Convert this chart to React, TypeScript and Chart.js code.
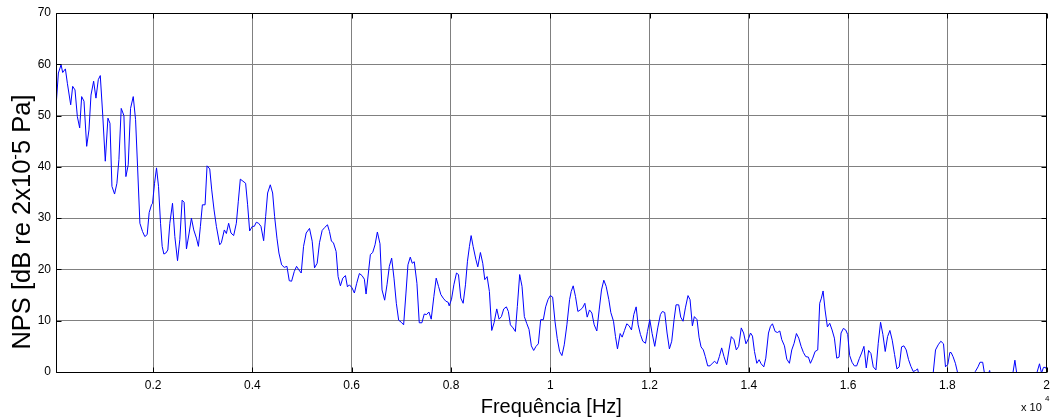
import React, { useEffect, useRef } from "react";
import { Chart, registerables } from "chart.js";

Chart.register(...registerables);

// Frequency (Hz) of each sample of the spectrum
const freqHz: number[] = [
  44, 91, 145, 178, 232, 272, 339, 379, 426, 473, 520, 560, 607, 661, 707, 748, 801, 848, 895, 935,
  982, 1036, 1089, 1130, 1170, 1223, 1270, 1310, 1357, 1411, 1451, 1498, 1545, 1599, 1646, 1686, 1733, 1786, 1833, 1880,
  1920, 1967, 1988, 2028, 2068, 2108, 2149, 2182, 2216, 2256, 2296, 2336, 2390, 2437, 2491, 2537, 2584, 2624, 2671, 2725,
  2771, 2818, 2872, 2912, 2952, 2992, 3046, 3086, 3140, 3180, 3227, 3274, 3341, 3374, 3434, 3475, 3521, 3568, 3622, 3676,
  3716, 3756, 3810, 3863, 3903, 3944, 3998, 4038, 4078, 4125, 4172, 4226, 4266, 4306, 4360, 4407, 4447, 4494, 4534, 4588,
  4641, 4695, 4742, 4789, 4843, 4889, 4936, 4983, 5030, 5083, 5150, 5204, 5251, 5304, 5351, 5405, 5458, 5512, 5552, 5592,
  5632, 5686, 5726, 5773, 5820, 5874, 5914, 5954, 6007, 6054, 6101, 6155, 6208, 6255, 6289, 6336, 6376, 6423, 6470, 6517,
  6570, 6611, 6664, 6711, 6758, 6805, 6852, 6899, 6946, 6999, 7046, 7093, 7133, 7180, 7220, 7260, 7314, 7361, 7414, 7461,
  7508, 7555, 7602, 7655, 7702, 7749, 7796, 7843, 7896, 7943, 7964, 8011, 8058, 8111, 8151, 8198, 8245, 8292, 8332, 8372,
  8406, 8446, 8500, 8540, 8593, 8640, 8681, 8728, 8774, 8821, 8868, 8922, 8969, 9016, 9063, 9116, 9156, 9197, 9250, 9297,
  9337, 9384, 9431, 9478, 9525, 9572, 9619, 9666, 9713, 9760, 9807, 9860, 9907, 9954, 10001, 10048, 10095, 10141, 10188, 10235,
  10282, 10335, 10389, 10422, 10462, 10509, 10556, 10603, 10650, 10697, 10744, 10791, 10838, 10885, 10938, 10985, 11032, 11079, 11126, 11180,
  11220, 11274, 11314, 11354, 11408, 11448, 11495, 11542, 11589, 11636, 11683, 11730, 11770, 11817, 11864, 11918, 11958, 12005, 12052, 12105,
  12165, 12219, 12259, 12306, 12353, 12400, 12447, 12494, 12534, 12588, 12628, 12675, 12722, 12775, 12816, 12863, 12903, 12957, 12997, 13037,
  13084, 13124, 13171, 13218, 13265, 13312, 13359, 13406, 13453, 13500, 13553, 13600, 13647, 13701, 13748, 13795, 13848, 13895, 13942, 13994,
  14034, 14074, 14114, 14161, 14208, 14248, 14302, 14342, 14396, 14436, 14476, 14530, 14577, 14624, 14664, 14718, 14765, 14818, 14865, 14912,
  14959, 15006, 15053, 15100, 15147, 15200, 15241, 15288, 15335, 15388, 15428, 15462, 15496, 15536, 15583, 15630, 15677, 15724, 15771, 15818,
  15858, 15905, 15952, 15992, 16032, 16079, 16126, 16173, 16225, 16272, 16319, 16366, 16413, 16460, 16507, 16561, 16607, 16654, 16701, 16748,
  16795, 16842, 16889, 16936, 16983, 17030, 17077, 17124, 17171, 17218, 17265, 17312, 17359, 17399, 17439, 17500, 17560, 17620, 17680, 17714,
  17761, 17815, 17868, 17922, 17962, 18009, 18049, 18075, 18114, 18161, 18215, 18280, 18350, 18420, 18490, 18563, 18617, 18657, 18711, 18751,
  18800, 18851, 18880, 18950, 19050, 19150, 19250, 19320, 19360, 19400, 19480, 19560, 19650, 19740, 19802, 19856, 19896, 19936, 19976, 20000,
];

// Sound pressure level (dB re 2x10^-5 Pa) at each frequency
const npsDb: number[] = [
  51.8, 58.3, 59.9, 58.4, 59.1, 56.3, 52.1, 55.7, 55.0, 49.8, 47.6, 53.7, 52.8, 44.0, 47.2, 54.0, 56.7, 53.4, 57.0, 57.8,
  50.5, 41.1, 49.5, 48.5, 36.2, 34.7, 36.8, 41.4, 51.4, 50.0, 38.1, 40.4, 51.4, 53.7, 49.2, 40.1, 29.0, 27.4, 26.4, 26.8,
  31.1, 32.6, 32.9, 36.8, 39.8, 36.2, 29.0, 24.5, 23.0, 23.2, 23.8, 29.0, 32.9, 26.4, 21.7, 25.8, 33.5, 33.1, 24.0, 27.1,
  30.0, 27.7, 26.1, 24.5, 28.4, 32.6, 32.6, 40.2, 39.6, 35.5, 31.6, 28.4, 24.8, 25.2, 27.7, 27.0, 29.0, 27.1, 26.6, 29.0,
  33.3, 37.6, 37.2, 36.8, 32.6, 27.5, 28.4, 28.4, 29.2, 29.0, 28.4, 25.6, 30.3, 34.9, 36.5, 34.9, 30.3, 26.1, 23.2, 20.9,
  20.4, 20.6, 17.8, 17.7, 19.6, 20.6, 19.9, 19.3, 24.5, 27.1, 28.0, 25.5, 20.3, 21.2, 25.2, 27.6, 28.2, 28.7, 27.4, 25.5,
  25.2, 23.5, 18.6, 16.8, 18.3, 18.8, 16.6, 17.0, 16.4, 15.4, 17.3, 19.2, 18.8, 18.1, 15.2, 19.3, 22.9, 23.3, 24.8, 27.3,
  25.0, 16.0, 14.0, 17.0, 20.6, 22.2, 18.3, 13.4, 10.1, 9.7, 9.2, 15.4, 20.9, 22.4, 21.2, 21.5, 17.3, 9.6, 9.6, 11.3,
  11.2, 11.7, 10.3, 14.7, 18.3, 16.7, 15.1, 14.4, 13.8, 13.6, 12.9, 14.2, 17.0, 19.3, 19.0, 14.4, 13.4, 17.0, 21.6, 24.5,
  26.6, 24.5, 22.0, 20.5, 23.3, 21.2, 18.0, 18.6, 15.7, 8.1, 9.6, 12.3, 10.3, 10.8, 12.3, 12.7, 11.8, 9.2, 8.6, 7.9,
  12.8, 19.0, 16.7, 10.8, 9.5, 8.3, 5.1, 4.2, 5.0, 5.5, 10.2, 10.2, 12.7, 14.1, 14.9, 14.6, 9.9, 6.5, 4.0, 3.2,
  5.3, 9.2, 14.1, 15.7, 16.8, 14.7, 11.8, 12.1, 12.5, 13.4, 10.7, 12.1, 11.5, 9.2, 8.0, 12.1, 16.0, 17.9, 16.7, 14.1,
  11.6, 9.9, 6.9, 4.5, 7.5, 6.8, 8.1, 9.4, 9.0, 8.2, 11.2, 12.7, 9.2, 7.3, 6.0, 5.6, 7.9, 10.2, 7.5, 5.0,
  8.6, 11.2, 11.8, 11.6, 7.6, 4.5, 6.0, 10.2, 13.1, 13.1, 10.7, 9.9, 12.5, 14.9, 14.1, 9.0, 10.8, 10.2, 6.8, 4.9,
  4.3, 3.0, 1.2, 1.2, 1.7, 2.1, 1.6, 3.0, 4.7, 3.0, 1.4, 4.3, 6.9, 6.3, 4.3, 5.0, 8.6, 7.6, 5.5, 6.5,
  7.6, 7.0, 4.0, 1.7, 2.4, 1.6, 1.0, 2.7, 7.6, 8.9, 9.4, 7.9, 7.7, 8.0, 6.3, 5.1, 2.5, 1.7, 4.3, 5.6,
  7.5, 6.6, 5.0, 3.8, 3.0, 2.9, 1.7, 2.7, 4.0, 4.3, 13.4, 14.4, 15.8, 12.1, 8.8, 9.5, 8.2, 6.6, 2.7, 2.9,
  7.6, 8.5, 8.2, 7.3, 3.2, 1.9, 1.2, 1.2, 2.6, 3.7, 5.0, 0.8, 4.2, 3.6, 1.0, 0.4, 5.6, 9.7, 7.3, 4.0,
  6.9, 8.1, 6.2, 3.4, 0.6, 1.0, 4.9, 5.1, 4.3, 2.4, 1.1, 0.1, 0.3, 0.6, -1.0, -3.0, -2.0, -4.0, -1.5, -0.2,
  4.3, 5.3, 6.0, 5.5, 1.0, 1.5, 3.8, 3.8, 3.0, 1.7, -0.5, -3.0, -2.0, -4.0, -2.0, 0.1, 1.0, 1.9, 1.9, -0.5,
  -1.0, 0.3, -1.0, -3.0, -2.0, -4.0, -2.0, -0.2, 2.3, -0.5, -3.0, -2.0, -4.0, -2.0, -0.2, 1.6, -0.2, 0.9, 0.9, 0.5,
];

const xTickValues: number[] = [2000, 4000, 6000, 8000, 10000, 12000, 14000, 16000, 18000, 20000];
const xTickLabels: string[] = ["0.2", "0.4", "0.6", "0.8", "1", "1.2", "1.4", "1.6", "1.8", "2"];
const yTickValues: number[] = [0, 10, 20, 30, 40, 50, 60, 70];
const yTickLabels: string[] = ["0", "10", "20", "30", "40", "50", "60", "70"];

const xTitle = "Frequência [Hz]";
const yTitleParts: string[] = ["NPS [dB re 2x10", "-", "5 Pa]"];
const xExponent: string[] = ["x 10", "4"];

const FONT = "'Liberation Sans', Arial, Helvetica, sans-serif";

const matlabFrame = {
  id: "matlabFrame",
  afterDraw(chart: any) {
    const { ctx, chartArea, scales } = chart;
    const { left, right, top, bottom } = chartArea;
    const xs = scales.x;
    const ys = scales.y;
    const L = Math.round(left) + 0.5;
    const R = Math.round(right) - 0.5;
    const T = Math.round(top) + 0.5;
    const B = Math.round(bottom) + 0.5;
    ctx.save();
    ctx.strokeStyle = "#000";
    ctx.lineWidth = 1;
    ctx.beginPath();
    ctx.rect(L, T, R - L, B - T);
    for (const v of xTickValues) {
      const px = Math.round(xs.getPixelForValue(v)) + 0.5;
      ctx.moveTo(px, B);
      ctx.lineTo(px, B - 5);
      ctx.moveTo(px, T);
      ctx.lineTo(px, T + 5);
    }
    for (const v of yTickValues) {
      const py = Math.round(ys.getPixelForValue(v)) + 0.5;
      ctx.moveTo(L, py);
      ctx.lineTo(L + 5, py);
      ctx.moveTo(R, py);
      ctx.lineTo(R - 5, py);
    }
    ctx.stroke();

    ctx.fillStyle = "#000";
    // x title
    ctx.font = `20px ${FONT}`;
    ctx.textAlign = "center";
    ctx.textBaseline = "alphabetic";
    ctx.fillText(xTitle, (left + right) / 2, 413);

    // y title (rotated, with superscript minus)
    const bigFont = `25.5px ${FONT}`;
    const supFont = `17px ${FONT}`;
    ctx.font = bigFont;
    const w0 = ctx.measureText(yTitleParts[0]).width;
    const w2 = ctx.measureText(yTitleParts[2]).width;
    ctx.font = supFont;
    const w1 = ctx.measureText(yTitleParts[1]).width;
    const total = w0 + w1 + w2;
    ctx.translate(30, 222);
    ctx.rotate(-Math.PI / 2);
    ctx.textAlign = "left";
    let cx = -total / 2;
    ctx.font = bigFont;
    ctx.fillText(yTitleParts[0], cx, 0);
    cx += w0;
    ctx.font = supFont;
    ctx.fillText(yTitleParts[1], cx, -10);
    cx += w1;
    ctx.font = bigFont;
    ctx.fillText(yTitleParts[2], cx, 0);
    ctx.setTransform(1, 0, 0, 1, 0, 0);

    // x exponent label
    ctx.font = `11px ${FONT}`;
    ctx.textAlign = "left";
    ctx.fillText(xExponent[0], 1021, 411);
    ctx.font = `8px ${FONT}`;
    ctx.fillText(xExponent[1], 1045, 401);
    ctx.restore();
  },
};

export default function App() {
  const ref = useRef<HTMLCanvasElement | null>(null);

  useEffect(() => {
    if (!ref.current) return;
    const points = freqHz.map((f, i) => ({ x: f, y: npsDb[i] }));
    const chart = new Chart(ref.current, {
      type: "line",
      data: {
        datasets: [
          {
            data: points,
            borderColor: "#0000ff",
            borderWidth: 1,
            pointRadius: 0,
            tension: 0,
            fill: false,
          },
        ],
      },
      options: {
        animation: false,
        responsive: false,
        parsing: false as any,
        layout: { padding: { top: 13, right: 7, left: 0, bottom: 0 } },
        plugins: { legend: { display: false }, tooltip: { enabled: false }, title: { display: false } },
        scales: {
          x: {
            type: "linear",
            min: 43,
            max: 20000,
            afterBuildTicks: (s: any) => {
              s.ticks = xTickValues.map((v) => ({ value: v }));
            },
            afterFit: (s: any) => {
              s.height = 47;
            },
            ticks: {
              autoSkip: false,
              maxRotation: 0,
              padding: 6,
              color: "#000",
              font: { family: FONT, size: 12 },
              callback: (v: any) => {
                const i = xTickValues.indexOf(Number(v));
                return i >= 0 ? xTickLabels[i] : "";
              },
            },
            grid: { color: "#808080", lineWidth: 1, drawTicks: false },
            border: { display: false },
          },
          y: {
            type: "linear",
            min: 0,
            max: 70,
            afterBuildTicks: (s: any) => {
              s.ticks = yTickValues.map((v) => ({ value: v }));
            },
            afterFit: (s: any) => {
              s.width = 56;
            },
            ticks: {
              padding: 5,
              color: "#000",
              font: { family: FONT, size: 12 },
              callback: (v: any) => {
                const i = yTickValues.indexOf(Number(v));
                return i >= 0 ? yTickLabels[i] : "";
              },
            },
            grid: { color: "#808080", lineWidth: 1, drawTicks: false },
            border: { display: false },
          },
        },
      },
      plugins: [matlabFrame],
    });
    return () => chart.destroy();
  }, []);

  return (
    <div style={{ position: "fixed", left: 0, top: 0, width: 1056, height: 419, background: "#fff" }}>
      <canvas ref={ref} width={1056} height={419} style={{ display: "block", width: 1056, height: 419 }} />
    </div>
  );
}
